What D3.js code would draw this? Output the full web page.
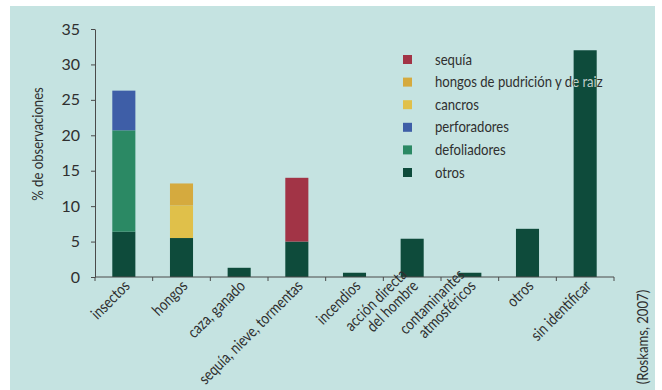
<!DOCTYPE html>
<html>
<head>
<meta charset="utf-8">
<script src="https://cdn.jsdelivr.net/npm/d3@7"></script>
<style>
  html, body { margin: 0; padding: 0; background: #ffffff; }
  svg { display: block; }
  text { font-family: "Lato", "Roboto", sans-serif; fill: #2f2f2f; }
</style>
</head>
<body>
<svg id="chart" width="662" height="390"></svg>
<script>
// Causes of damage, % of observations (stacked by sub-cause)
const categories = [
  "insectos", "hongos", "caza, ganado", "sequía, nieve, tormentas", "incendios",
  "acción directa\ndel hombre", "contaminantes\natmosféricos", "otros", "sin identificar"
];
const otros        = [6.4, 5.5, 1.3, 5.0, 0.6, 5.4, 0.6, 6.8, 32.0];
const defoliadores = [14.3, 0, 0, 0, 0, 0, 0, 0, 0];
const perforadores = [5.6, 0, 0, 0, 0, 0, 0, 0, 0];
const cancros      = [0, 4.6, 0, 0, 0, 0, 0, 0, 0];
const pudricion    = [0, 3.1, 0, 0, 0, 0, 0, 0, 0];
const sequia       = [0, 0, 0, 9.0, 0, 0, 0, 0, 0];
const yTicks = [0, 5, 10, 15, 20, 25, 30, 35];

const seriesKeys   = ["otros", "defoliadores", "perforadores", "cancros", "pudricion", "sequia"];
const seriesValues = { otros, defoliadores, perforadores, cancros, pudricion, sequia };
const seriesLabels = {
  sequia: "sequía", pudricion: "hongos de pudrición y de raiz", cancros: "cancros",
  perforadores: "perforadores", defoliadores: "defoliadores", otros: "otros"
};
const colors = {
  otros: "#0e4b3b", defoliadores: "#2b8964", perforadores: "#3e5ea7",
  cancros: "#e0c04a", pudricion: "#d5aa3e", sequia: "#a23446"
};
const legendOrder = ["sequia", "pudricion", "cancros", "perforadores", "defoliadores", "otros"];

const svg = d3.select("#chart");
const FS = 16;      // label font size
const SX = 0.82;    // horizontal condensing of labels

// panel background
svg.append("rect").attr("x", 10).attr("y", 6).attr("width", 645).attr("height", 384)
  .attr("fill", "#c5e3e1");

const x = d3.scaleBand().domain(categories).range([95, 614])
  .paddingInner(0.6).paddingOuter(0.3);
const y = d3.scaleLinear().domain([0, 35]).range([277, 29]);

const table = categories.map((c, i) => {
  const row = { cat: c };
  seriesKeys.forEach(k => row[k] = seriesValues[k][i]);
  return row;
});
const stacked = d3.stack().keys(seriesKeys)(table);

// bars
const gBars = svg.append("g");
stacked.forEach(layer => {
  gBars.selectAll(null).data(layer.filter(d => d[1] - d[0] > 0)).enter().append("rect")
    .attr("x", d => x(d.data.cat))
    .attr("width", x.bandwidth())
    .attr("y", d => y(d[1]))
    .attr("height", d => y(d[0]) - y(d[1]))
    .attr("fill", colors[layer.key]);
});

// y axis
const yAxis = svg.append("g").attr("transform", "translate(95,0)")
  .call(d3.axisLeft(y).tickValues(yTicks).tickSize(4).tickSizeOuter(0).tickPadding(11));
yAxis.select(".domain").attr("stroke", "#4a4a4a");
yAxis.selectAll(".tick line").attr("stroke", "#4a4a4a");
yAxis.selectAll(".tick text").style("font-family", "Lato, sans-serif")
  .style("font-size", "16px").attr("fill", "#2f2f2f");

// x axis: baseline plus ticks on band boundaries
const x0 = x.range()[0], step = x.step();
svg.append("line").attr("x1", x0).attr("x2", x.range()[1])
  .attr("y1", y(0)).attr("y2", y(0)).attr("stroke", "#4a4a4a");
svg.selectAll(null).data(d3.range(categories.length + 1)).enter().append("line")
  .attr("x1", i => x0 + i * step).attr("x2", i => x0 + i * step)
  .attr("y1", y(0)).attr("y2", y(0) + 4).attr("stroke", "#4a4a4a");

// x labels, rotated, last line at the anchor
categories.forEach(c => {
  const lines = c.split("\n");
  const cx = x(c) + x.bandwidth() / 2;
  const t = svg.append("text")
    .attr("transform", `translate(${cx + 7},${y(0) + 10}) rotate(-45) scale(${SX},1)`)
    .attr("text-anchor", "end").style("font-size", FS + "px");
  lines.forEach((ln, j) => {
    t.append("tspan").attr("x", 0)
      .attr("y", -(lines.length - 1 - j) * 16)
      .text(ln);
  });
});

// y axis title
svg.append("text")
  .attr("transform", `translate(43,144) rotate(-90) scale(${SX},1)`)
  .attr("text-anchor", "middle").style("font-size", "16px")
  .text("% de observaciones");

// source note
svg.append("text")
  .attr("transform", `translate(648,337) rotate(-90) scale(${SX},1)`)
  .attr("text-anchor", "middle").style("font-size", FS + "px")
  .text("(Roskams, 2007)");

// legend
function legendRows(g, fill) {
  legendOrder.forEach((k, i) => {
    const cy = 59.5 + i * 22.6;
    const t = g.append("text")
      .attr("transform", `translate(435,${cy + 5}) scale(${SX},1)`)
      .style("font-size", FS + "px").text(seriesLabels[k]);
    if (fill) t.style("fill", fill);
  });
}
const legend = svg.append("g");
legendOrder.forEach((k, i) => {
  const cy = 59.5 + i * 22.6;
  legend.append("rect").attr("x", 403).attr("y", cy - 4.5).attr("width", 9).attr("height", 9)
    .attr("fill", colors[k]);
});
legendRows(legend, null);

// where the tall bar covers the legend, draw the legend text in a light tone
const lastIdx = categories.length - 1;
const lastTotal = d3.sum(seriesKeys, k => seriesValues[k][lastIdx]);
svg.append("clipPath").attr("id", "barClip").append("rect")
  .attr("x", x(categories[lastIdx])).attr("width", x.bandwidth())
  .attr("y", y(lastTotal)).attr("height", y(0) - y(lastTotal));
legendRows(svg.append("g").attr("clip-path", "url(#barClip)"), "#b9d3cc");
</script>
</body>
</html>
